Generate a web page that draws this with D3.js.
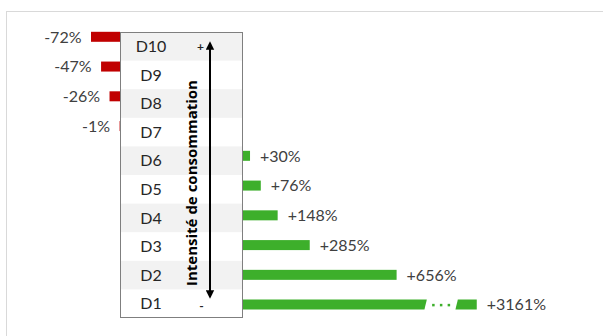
<!DOCTYPE html>
<html>
<head>
<meta charset="utf-8">
<script src="https://cdn.jsdelivr.net/npm/d3@7/dist/d3.min.js"></script>
<style>
  html, body { margin: 0; padding: 0; background: #fff; }
  svg { display: block; }
</style>
</head>
<body>
<svg id="chart" width="603" height="336"></svg>
<script>
// Deciles, from the most intensive consumers (D10) to the least (D1)
const categories = ["D10", "D9", "D8", "D7", "D6", "D5", "D4", "D3", "D2", "D1"];
// Percentage change per decile
const values = [-72, -47, -26, -1, 30, 76, 148, 285, 656, 3161];
const valueLabels = ["-72%", "-47%", "-26%", "-1%", "+30%", "+76%", "+148%", "+285%", "+656%", "+3161%"];
// Axis break for the longest positive bar
const breakFrom = 780;
const breakTo = 3075;

const svg = d3.select("#chart");
const font = "Lato, 'Open Sans', sans-serif";
const textColor = "#404040";
const red = "#c00000";
const green = "#3daf2b";

// Outer frame
svg.append("rect")
  .attr("x", 6.5).attr("y", 11.5)
  .attr("width", 620).attr("height", 340)
  .attr("fill", "#fff").attr("stroke", "#d9d9d9").attr("stroke-width", 1);

// Box geometry
const boxLeft = 120, boxRight = 243, boxTop = 32, boxBottom = 318;

// Scales
const yRow = d3.scaleBand().domain(categories).range([boxTop, boxBottom]);
const yBar = d3.scalePoint().domain(categories).range([36.8, 304.6]);
const barH = 10;

const xNeg = d3.scaleLinear().domain([-72, 0]).range([91, boxLeft]);
const posK = 153.6 / 656;
const xPos = d3.scaleLinear()
  .domain([0, breakFrom, breakTo, 3161])
  .range([boxRight,
          boxRight + breakFrom * posK,
          boxRight + breakFrom * posK + 31,
          boxRight + breakFrom * posK + 31 + (3161 - breakTo) * posK]);

const data = categories.map((c, i) => ({ cat: c, value: values[i], label: valueLabels[i] }));
const neg = data.filter(d => d.value < 0);
const pos = data.filter(d => d.value >= 0);

// Negative bars
svg.append("g").selectAll("rect").data(neg).join("rect")
  .attr("x", d => xNeg(d.value))
  .attr("y", d => yBar(d.cat) - barH / 2)
  .attr("width", d => Math.max(0.6, xNeg(0) - xNeg(d.value)))
  .attr("height", barH)
  .attr("fill", red);

svg.append("g").selectAll("text").data(neg).join("text")
  .attr("x", d => xNeg(d.value) - 9.5)
  .attr("y", d => yBar(d.cat))
  .attr("dy", "0.36em")
  .attr("text-anchor", "end")
  .attr("font-family", font).attr("font-size", 16)
  .attr("fill", textColor)
  .text(d => d.label);

// Positive bars (the longest one is cut by the axis break)
const posG = svg.append("g");
pos.forEach(d => {
  const yc = yBar(d.cat), y0 = yc - barH / 2, y1 = yc + barH / 2;
  if (d.value <= breakFrom) {
    posG.append("rect")
      .attr("x", xPos(0)).attr("y", y0)
      .attr("width", xPos(d.value) - xPos(0)).attr("height", barH)
      .attr("fill", green);
  } else {
    const a = xPos(breakFrom), b = xPos(breakTo), s = 1.2;
    posG.append("path")
      .attr("d", `M${xPos(0)},${y0}H${a + s}L${a - s},${y1}H${xPos(0)}Z`)
      .attr("fill", green);
    posG.append("path")
      .attr("d", `M${b + s},${y0}H${xPos(d.value)}V${y1}H${b - s}Z`)
      .attr("fill", green);
    [0.25, 0.5, 0.75].forEach(t => {
      posG.append("rect")
        .attr("x", a + (b - a) * t - 1.25).attr("y", yc - 0.75)
        .attr("width", 2.5).attr("height", 2.5)
        .attr("fill", green);
    });
  }
});

svg.append("g").selectAll("text").data(pos).join("text")
  .attr("x", d => xPos(d.value) + 10)
  .attr("y", d => yBar(d.cat))
  .attr("dy", "0.36em")
  .attr("font-family", font).attr("font-size", 16)
  .attr("fill", textColor)
  .text(d => d.label);

// Category table
const box = svg.append("g");
box.append("rect")
  .attr("x", boxLeft).attr("y", boxTop)
  .attr("width", boxRight - boxLeft).attr("height", boxBottom - boxTop)
  .attr("fill", "#fff");
box.selectAll("rect.band").data(categories.filter((c, i) => i % 2 === 0)).join("rect")
  .attr("class", "band")
  .attr("x", boxLeft).attr("y", d => yRow(d))
  .attr("width", boxRight - boxLeft).attr("height", yRow.bandwidth())
  .attr("fill", "#f2f2f2");
box.selectAll("text.cat").data(categories).join("text")
  .attr("class", "cat")
  .attr("x", 151)
  .attr("y", d => yRow(d) + yRow.bandwidth() / 2)
  .attr("dy", "0.36em")
  .attr("text-anchor", "middle")
  .attr("font-family", font).attr("font-size", 16)
  .attr("fill", "#262626")
  .text(d => d);
box.append("rect")
  .attr("x", boxLeft + 0.5).attr("y", boxTop + 0.5)
  .attr("width", boxRight - boxLeft - 1).attr("height", boxBottom - boxTop - 1)
  .attr("fill", "none").attr("stroke", "#7f7f7f").attr("stroke-width", 1);

// Intensity arrow
const defs = svg.append("defs");
defs.append("marker")
  .attr("id", "head").attr("viewBox", "0 0 10 10")
  .attr("refX", 8).attr("refY", 5)
  .attr("markerWidth", 4.2).attr("markerHeight", 4.5)
  .attr("orient", "auto-start-reverse")
  .append("path").attr("d", "M0,0L10,5L0,10Z").attr("fill", "#000");
box.append("line")
  .attr("x1", 210).attr("x2", 210)
  .attr("y1", 43).attr("y2", 297)
  .attr("stroke", "#000").attr("stroke-width", 2)
  .attr("marker-start", "url(#head)").attr("marker-end", "url(#head)");

box.append("text")
  .attr("transform", "translate(196.5,183) rotate(-90)")
  .attr("text-anchor", "middle")
  .attr("font-family", "'Open Sans', sans-serif").attr("font-size", 15).attr("font-weight", "bold")
  .attr("fill", "#000")
  .text("Intensité de consommation");

box.append("text")
  .attr("x", 200.5).attr("y", 47).attr("dy", "0.35em")
  .attr("text-anchor", "middle")
  .attr("font-family", font).attr("font-size", 12).attr("font-weight", "bold")
  .attr("fill", "#262626")
  .text("+");
box.append("text")
  .attr("x", 201.5).attr("y", 306).attr("dy", "0.35em")
  .attr("text-anchor", "middle")
  .attr("font-family", font).attr("font-size", 12).attr("font-weight", "bold")
  .attr("fill", "#262626")
  .text("-");
</script>
</body>
</html>
